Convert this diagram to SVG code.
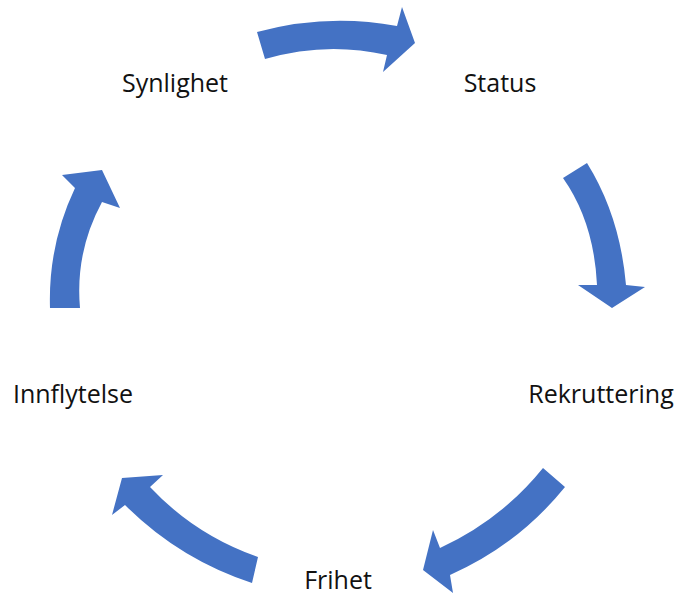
<svg xmlns="http://www.w3.org/2000/svg" width="676" height="596" viewBox="0 0 676 596">
<style>
.arrow{fill:#4472C4;stroke:none}
.lbl{font-family:"Open Sans","Liberation Sans",sans-serif;font-size:25px;fill:#111;text-anchor:middle}
</style>
<rect width="676" height="596" fill="#fff"/>
<g id="connectors">
<path class="arrow" d="M257,32 Q327,13 397,26 L402,7 L415,43 L383,72 L387,55 Q326,41 265,59 Z"/>
<path class="arrow" d="M563,178 L587,163 Q620,216 626,285 L645,287 L612,308 L578,285 L597,285 Q594,222 563,178 Z"/>
<path class="arrow" d="M543,468 L565,487 Q518,545 450,575 L453,593 L423,570 L433,530 L440,548 Q501,520 543,468 Z"/>
<path class="arrow" d="M258,557 L252,583 Q179,559 125,505 L112,515 L122,478 L163,475 L150,487 Q195,535 258,557 Z"/>
<path class="arrow" d="M50,308 Q48,245 75,188 L62,175 L102,170 L120,208 L102,202 Q75,252 80,308 Z"/>
</g>
<g id="synlighet"><text class="lbl" x="175" y="92">Synlighet</text></g>
<g id="status"><text class="lbl" x="500" y="92">Status</text></g>
<g id="rekruttering"><text class="lbl" x="601" y="403">Rekruttering</text></g>
<g id="frihet"><text class="lbl" x="338" y="589">Frihet</text></g>
<g id="innflytelse"><text class="lbl" x="73" y="403">Innflytelse</text></g>
</svg>
